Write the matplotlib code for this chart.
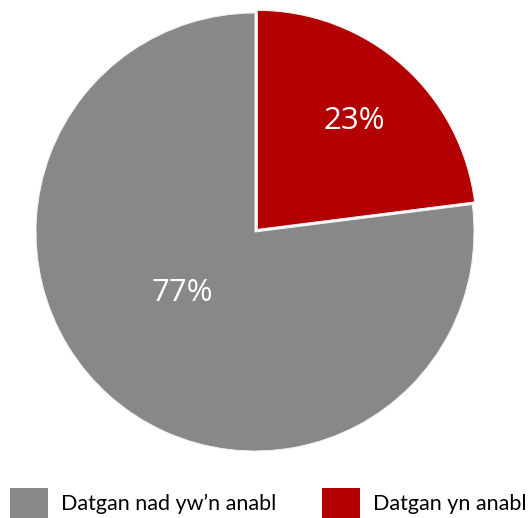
import matplotlib.pyplot as plt
from matplotlib.patches import Patch

labels = ["Datgan yn anabl", "Datgan nad yw\u2019n anabl"]
shares = [23, 77]
colors = ["#b30000", "#888888"]

fig = plt.figure(figsize=(5.28, 5.18), dpi=100)
# pie circle: ~438 px across, centre at (255, 232) px from top-left
ax = fig.add_axes([36 / 528, 67 / 518, 438 / 528, 438 / 518])
wedges, texts, autotexts = ax.pie(
    shares, colors=colors, startangle=90, counterclock=False,
    explode=[0.016, 0], radius=1,
    autopct='%d%%', pctdistance=0.66,
    wedgeprops=dict(edgecolor='#f2f2f2', linewidth=0.7),
    textprops=dict(color='white', fontsize=22.5, family='Open Sans'))
for w in wedges:
    w.set_clip_on(False)
ax.set_xlim(-1, 1)
ax.set_ylim(-1, 1)
ax.set_aspect('equal')
ax.axis('off')

# nudge the labels to where the original puts them
autotexts[1].set_position((-0.33, -0.28))
autotexts[0].set_position((0.455, 0.505))

# legend lists grey first
handles = [Patch(facecolor=colors[1]), Patch(facecolor=colors[0])]
fig.legend(handles, [labels[1], labels[0]], ncol=2, frameon=False,
           loc='lower left', bbox_to_anchor=(10 / 528, 0), borderpad=0,
           borderaxespad=0, prop=dict(family='Lato', size=15.5),
           handlelength=1.75, handleheight=1.75, handletextpad=0.6,
           columnspacing=2.15)

fig.savefig('out.png', dpi=100)
